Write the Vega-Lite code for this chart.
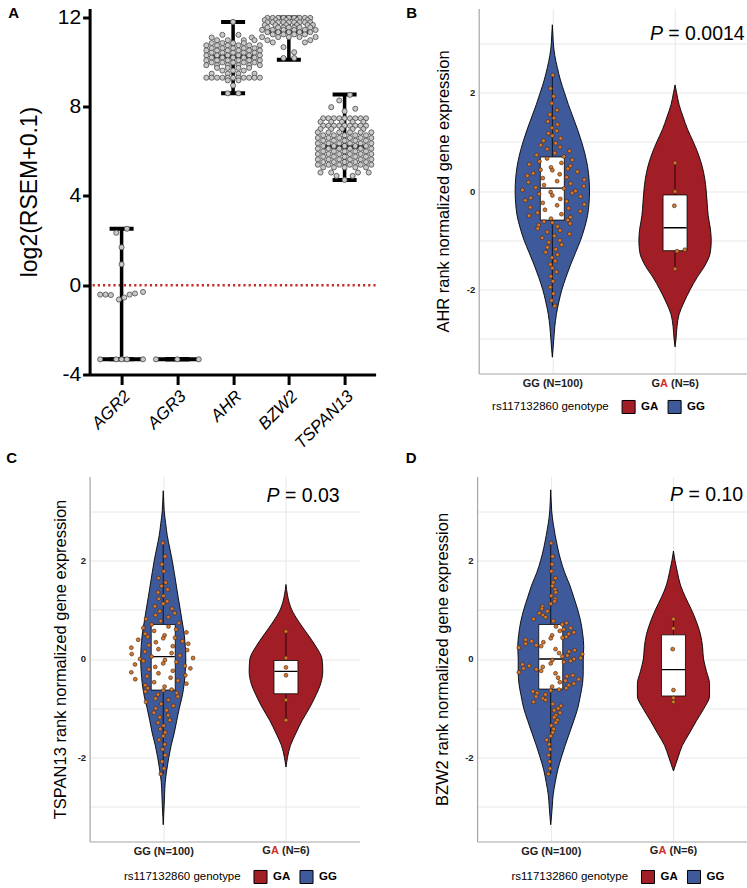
{
"$schema":"https://vega.github.io/schema/vega-lite/v6.json",
"background":"white",
"padding":{"left":5.6,"top":5.5,"right":0,"bottom":0},
"config":{"font":"Liberation Sans","view":{"stroke":null}},
"datasets":{
"ref":[{"y":0}],
"aSum":[{"g":"AGR2","c":1,"lo":-3.32,"med":-3.32,"hi":2.53},{"g":"AGR3","c":2,"lo":-3.32,"med":-3.32,"hi":-3.32},{"g":"AHR","c":3,"lo":8.6,"med":10.25,"hi":11.8},{"g":"BZW2","c":4,"lo":10.1,"med":11.35,"hi":12.0},{"g":"TSPAN13","c":5,"lo":4.72,"med":6.2,"hi":8.55}],
"aPts":[
{"v":2.53,"x":1.096},{"v":2.35,"x":0.904},{"v":1.7,"x":1},{"v":0.94,"x":1},{"v":-0.42,"x":0.616},{"v":-0.42,"x":0.712},{"v":-0.44,"x":0.808},{"v":-0.64,"x":0.952},{"v":-0.55,"x":1.048},{"v":-0.42,"x":1.144},{"v":-0.37,"x":1.24},{"v":-0.3,"x":1.384},
{"v":-3.32,"x":0.616},{"v":-3.32,"x":0.904},{"v":-3.32,"x":1},{"v":-3.32,"x":1.096},{"v":-3.32,"x":1.384},
{"v":-3.32,"x":1.616},{"v":-3.32,"x":2},{"v":-3.32,"x":2.384},
{"v":11.8,"x":3},{"v":11.22,"x":2.808},{"v":11.22,"x":3.096},{"v":11.1,"x":2.616},{"v":11.1,"x":3.336},
{"v":10.98,"x":2.712},{"v":10.98,"x":2.904},{"v":10.98,"x":3.192},{"v":10.98,"x":3.384},
{"v":10.85,"x":2.616},{"v":10.85,"x":2.808},{"v":10.85,"x":3},{"v":10.85,"x":3.192},
{"v":10.75,"x":2.52},{"v":10.75,"x":2.712},{"v":10.75,"x":2.904},{"v":10.75,"x":3.096},{"v":10.75,"x":3.288},{"v":10.75,"x":3.48},
{"v":10.62,"x":2.616},{"v":10.62,"x":2.808},{"v":10.62,"x":3},{"v":10.62,"x":3.192},{"v":10.62,"x":3.384},
{"v":10.52,"x":2.52},{"v":10.52,"x":2.712},{"v":10.52,"x":2.904},{"v":10.52,"x":3.096},{"v":10.52,"x":3.288},{"v":10.52,"x":3.48},
{"v":10.42,"x":2.616},{"v":10.42,"x":2.808},{"v":10.42,"x":3},{"v":10.42,"x":3.192},{"v":10.42,"x":3.384},
{"v":10.3,"x":2.52},{"v":10.3,"x":2.712},{"v":10.3,"x":2.904},{"v":10.3,"x":3.096},{"v":10.3,"x":3.288},{"v":10.3,"x":3.48},
{"v":10.2,"x":2.616},{"v":10.2,"x":2.808},{"v":10.2,"x":3},{"v":10.2,"x":3.192},{"v":10.2,"x":3.384},
{"v":10.08,"x":2.52},{"v":10.08,"x":2.712},{"v":10.08,"x":2.904},{"v":10.08,"x":3.096},{"v":10.08,"x":3.288},{"v":10.08,"x":3.48},
{"v":9.98,"x":2.616},{"v":9.98,"x":2.808},{"v":9.98,"x":3},{"v":9.98,"x":3.192},{"v":9.98,"x":3.384},
{"v":9.86,"x":2.52},{"v":9.86,"x":2.712},{"v":9.86,"x":2.904},{"v":9.86,"x":3.096},{"v":9.86,"x":3.288},{"v":9.86,"x":3.48},
{"v":9.74,"x":2.712},{"v":9.74,"x":2.904},{"v":9.74,"x":3.096},{"v":9.74,"x":3.288},
{"v":9.62,"x":2.808},{"v":9.62,"x":3},{"v":9.62,"x":3.192},
{"v":9.48,"x":2.616},{"v":9.48,"x":2.904},{"v":9.48,"x":3.096},{"v":9.48,"x":3.384},
{"v":9.3,"x":2.52},{"v":9.3,"x":2.616},{"v":9.3,"x":2.712},{"v":9.3,"x":2.808},{"v":9.3,"x":2.904},{"v":9.3,"x":3},{"v":9.3,"x":3.096},{"v":9.3,"x":3.192},{"v":9.3,"x":3.288},{"v":9.3,"x":3.384},{"v":9.3,"x":3.48},
{"v":9.18,"x":2.904},{"v":9.18,"x":3.096},{"v":8.95,"x":3},{"v":8.6,"x":2.904},{"v":8.6,"x":3.096},
{"v":11.98,"x":3.616},{"v":11.98,"x":3.712},{"v":11.98,"x":3.808},{"v":11.98,"x":3.904},{"v":11.98,"x":4},{"v":11.98,"x":4.096},{"v":11.98,"x":4.192},{"v":11.98,"x":4.288},{"v":11.98,"x":4.384},
{"v":11.88,"x":3.568},{"v":11.88,"x":3.76},{"v":11.88,"x":3.952},{"v":11.88,"x":4.144},{"v":11.88,"x":4.336},
{"v":11.78,"x":3.616},{"v":11.78,"x":3.712},{"v":11.78,"x":3.808},{"v":11.78,"x":3.904},{"v":11.78,"x":4},{"v":11.78,"x":4.096},{"v":11.78,"x":4.192},{"v":11.78,"x":4.288},{"v":11.78,"x":4.384},
{"v":11.66,"x":3.568},{"v":11.66,"x":3.76},{"v":11.66,"x":3.952},{"v":11.66,"x":4.144},{"v":11.66,"x":4.336},{"v":11.66,"x":4.432},
{"v":11.55,"x":3.616},{"v":11.55,"x":3.808},{"v":11.55,"x":3.904},{"v":11.55,"x":4},{"v":11.55,"x":4.096},{"v":11.55,"x":4.192},{"v":11.55,"x":4.384},
{"v":11.44,"x":3.52},{"v":11.44,"x":3.712},{"v":11.44,"x":3.904},{"v":11.44,"x":4.096},{"v":11.44,"x":4.288},{"v":11.44,"x":4.48},
{"v":11.34,"x":3.616},{"v":11.34,"x":3.808},{"v":11.34,"x":4},{"v":11.34,"x":4.192},{"v":11.34,"x":4.384},
{"v":11.24,"x":3.712},{"v":11.24,"x":3.904},{"v":11.24,"x":4.096},{"v":11.24,"x":4.288},
{"v":11.12,"x":3.52},{"v":11.12,"x":3.808},{"v":11.12,"x":4},{"v":11.12,"x":4.192},{"v":11.12,"x":4.48},
{"v":10.98,"x":3.616},{"v":10.98,"x":4.384},{"v":10.88,"x":3.712},{"v":10.88,"x":4.288},
{"v":10.67,"x":3.904},{"v":10.44,"x":4.096},{"v":10.18,"x":3.904},{"v":10.18,"x":4.096},
{"v":8.53,"x":5.096},{"v":8.28,"x":4.904},{"v":7.98,"x":4.76},{"v":7.91,"x":5.192},{"v":7.8,"x":5},
{"v":7.48,"x":4.616},{"v":7.48,"x":4.712},{"v":7.48,"x":4.808},{"v":7.48,"x":4.904},{"v":7.48,"x":5},{"v":7.48,"x":5.096},{"v":7.48,"x":5.192},{"v":7.48,"x":5.288},{"v":7.48,"x":5.384},
{"v":7.32,"x":4.568},{"v":7.32,"x":4.76},{"v":7.32,"x":4.952},{"v":7.32,"x":5.144},{"v":7.32,"x":5.336},
{"v":7.15,"x":4.616},{"v":7.15,"x":4.712},{"v":7.15,"x":4.808},{"v":7.15,"x":4.904},{"v":7.15,"x":5},{"v":7.15,"x":5.096},{"v":7.15,"x":5.192},{"v":7.15,"x":5.288},{"v":7.15,"x":5.384},
{"v":7.0,"x":4.568},{"v":7.0,"x":4.76},{"v":7.0,"x":4.952},{"v":7.0,"x":5.144},{"v":7.0,"x":5.336},
{"v":6.85,"x":4.52},{"v":6.85,"x":4.712},{"v":6.85,"x":4.904},{"v":6.85,"x":5.096},{"v":6.85,"x":5.288},{"v":6.85,"x":5.48},
{"v":6.72,"x":4.616},{"v":6.72,"x":4.808},{"v":6.72,"x":5},{"v":6.72,"x":5.192},{"v":6.72,"x":5.384},
{"v":6.6,"x":4.52},{"v":6.6,"x":4.712},{"v":6.6,"x":4.904},{"v":6.6,"x":5.096},{"v":6.6,"x":5.288},{"v":6.6,"x":5.48},
{"v":6.48,"x":4.616},{"v":6.48,"x":4.808},{"v":6.48,"x":5},{"v":6.48,"x":5.192},{"v":6.48,"x":5.384},
{"v":6.36,"x":4.52},{"v":6.36,"x":4.712},{"v":6.36,"x":4.904},{"v":6.36,"x":5.096},{"v":6.36,"x":5.288},{"v":6.36,"x":5.48},
{"v":6.24,"x":4.616},{"v":6.24,"x":4.808},{"v":6.24,"x":5},{"v":6.24,"x":5.192},{"v":6.24,"x":5.384},
{"v":6.12,"x":4.52},{"v":6.12,"x":4.712},{"v":6.12,"x":4.904},{"v":6.12,"x":5.096},{"v":6.12,"x":5.288},{"v":6.12,"x":5.48},
{"v":6.0,"x":4.616},{"v":6.0,"x":4.808},{"v":6.0,"x":5},{"v":6.0,"x":5.192},{"v":6.0,"x":5.384},
{"v":5.88,"x":4.52},{"v":5.88,"x":4.712},{"v":5.88,"x":4.904},{"v":5.88,"x":5.096},{"v":5.88,"x":5.288},{"v":5.88,"x":5.48},
{"v":5.76,"x":4.616},{"v":5.76,"x":4.808},{"v":5.76,"x":5},{"v":5.76,"x":5.192},{"v":5.76,"x":5.384},
{"v":5.64,"x":4.52},{"v":5.64,"x":4.712},{"v":5.64,"x":4.904},{"v":5.64,"x":5.096},{"v":5.64,"x":5.288},{"v":5.64,"x":5.48},
{"v":5.52,"x":4.616},{"v":5.52,"x":4.808},{"v":5.52,"x":5},{"v":5.52,"x":5.192},{"v":5.52,"x":5.384},
{"v":5.4,"x":4.52},{"v":5.4,"x":4.712},{"v":5.4,"x":4.904},{"v":5.4,"x":5.096},{"v":5.4,"x":5.288},{"v":5.4,"x":5.48},
{"v":5.28,"x":4.616},{"v":5.28,"x":4.808},{"v":5.28,"x":5},{"v":5.28,"x":5.192},{"v":5.28,"x":5.384},
{"v":5.05,"x":4.568},{"v":5.05,"x":4.76},{"v":5.05,"x":5.24},{"v":5.05,"x":5.432},
{"v":4.9,"x":4.856},{"v":4.9,"x":5.144},{"v":4.72,"x":5}
],
"vioB":[
{"g":"GG","v":3.37,"lo":1,"hi":1},{"g":"GG","v":3.2,"lo":0.996,"hi":1.004},{"g":"GG","v":3.0,"lo":0.992,"hi":1.008},{"g":"GG","v":2.75,"lo":0.98,"hi":1.02},{"g":"GG","v":2.5,"lo":0.959,"hi":1.041},{"g":"GG","v":2.25,"lo":0.934,"hi":1.066},{"g":"GG","v":2.0,"lo":0.902,"hi":1.098},{"g":"GG","v":1.75,"lo":0.869,"hi":1.131},{"g":"GG","v":1.5,"lo":0.832,"hi":1.168},{"g":"GG","v":1.25,"lo":0.795,"hi":1.205},{"g":"GG","v":1.0,"lo":0.762,"hi":1.238},{"g":"GG","v":0.75,"lo":0.734,"hi":1.266},{"g":"GG","v":0.5,"lo":0.713,"hi":1.287},{"g":"GG","v":0.25,"lo":0.701,"hi":1.299},{"g":"GG","v":0.0,"lo":0.697,"hi":1.303},{"g":"GG","v":-0.25,"lo":0.701,"hi":1.299},{"g":"GG","v":-0.5,"lo":0.713,"hi":1.287},{"g":"GG","v":-0.75,"lo":0.738,"hi":1.262},{"g":"GG","v":-1.0,"lo":0.77,"hi":1.23},{"g":"GG","v":-1.25,"lo":0.811,"hi":1.189},{"g":"GG","v":-1.5,"lo":0.852,"hi":1.148},{"g":"GG","v":-1.75,"lo":0.889,"hi":1.111},{"g":"GG","v":-2.0,"lo":0.922,"hi":1.078},{"g":"GG","v":-2.25,"lo":0.947,"hi":1.053},{"g":"GG","v":-2.5,"lo":0.967,"hi":1.033},{"g":"GG","v":-2.75,"lo":0.98,"hi":1.02},{"g":"GG","v":-3.0,"lo":0.988,"hi":1.012},{"g":"GG","v":-3.2,"lo":0.994,"hi":1.006},{"g":"GG","v":-3.37,"lo":1,"hi":1},
{"g":"GA","v":2.15,"lo":2,"hi":2},{"g":"GA","v":2.0,"lo":1.988,"hi":2.012},{"g":"GA","v":1.75,"lo":1.967,"hi":2.033},{"g":"GA","v":1.5,"lo":1.934,"hi":2.066},{"g":"GA","v":1.25,"lo":1.898,"hi":2.102},{"g":"GA","v":1.0,"lo":1.852,"hi":2.148},{"g":"GA","v":0.75,"lo":1.811,"hi":2.189},{"g":"GA","v":0.5,"lo":1.779,"hi":2.221},{"g":"GA","v":0.25,"lo":1.758,"hi":2.242},{"g":"GA","v":0.0,"lo":1.746,"hi":2.254},{"g":"GA","v":-0.25,"lo":1.738,"hi":2.262},{"g":"GA","v":-0.5,"lo":1.73,"hi":2.27},{"g":"GA","v":-0.75,"lo":1.713,"hi":2.287},{"g":"GA","v":-1.0,"lo":1.705,"hi":2.295},{"g":"GA","v":-1.25,"lo":1.713,"hi":2.287},{"g":"GA","v":-1.5,"lo":1.754,"hi":2.246},{"g":"GA","v":-1.75,"lo":1.82,"hi":2.18},{"g":"GA","v":-2.0,"lo":1.877,"hi":2.123},{"g":"GA","v":-2.25,"lo":1.926,"hi":2.074},{"g":"GA","v":-2.5,"lo":1.967,"hi":2.033},{"g":"GA","v":-2.75,"lo":1.984,"hi":2.016},{"g":"GA","v":-3.0,"lo":1.992,"hi":2.008},{"g":"GA","v":-3.16,"lo":2,"hi":2}
],
"vioC":[
{"g":"GG","v":3.41,"lo":1,"hi":1},{"g":"GG","v":3.2,"lo":0.996,"hi":1.004},{"g":"GG","v":3.0,"lo":0.992,"hi":1.008},{"g":"GG","v":2.75,"lo":0.98,"hi":1.02},{"g":"GG","v":2.5,"lo":0.967,"hi":1.033},{"g":"GG","v":2.25,"lo":0.947,"hi":1.053},{"g":"GG","v":2.0,"lo":0.927,"hi":1.073},{"g":"GG","v":1.75,"lo":0.91,"hi":1.09},{"g":"GG","v":1.5,"lo":0.894,"hi":1.106},{"g":"GG","v":1.25,"lo":0.878,"hi":1.122},{"g":"GG","v":1.0,"lo":0.861,"hi":1.139},{"g":"GG","v":0.75,"lo":0.845,"hi":1.155},{"g":"GG","v":0.5,"lo":0.829,"hi":1.171},{"g":"GG","v":0.25,"lo":0.82,"hi":1.18},{"g":"GG","v":0.0,"lo":0.816,"hi":1.184},{"g":"GG","v":-0.25,"lo":0.82,"hi":1.18},{"g":"GG","v":-0.5,"lo":0.829,"hi":1.171},{"g":"GG","v":-0.75,"lo":0.845,"hi":1.155},{"g":"GG","v":-1.0,"lo":0.869,"hi":1.131},{"g":"GG","v":-1.25,"lo":0.89,"hi":1.11},{"g":"GG","v":-1.5,"lo":0.91,"hi":1.09},{"g":"GG","v":-1.75,"lo":0.935,"hi":1.065},{"g":"GG","v":-2.0,"lo":0.955,"hi":1.045},{"g":"GG","v":-2.25,"lo":0.971,"hi":1.029},{"g":"GG","v":-2.5,"lo":0.984,"hi":1.016},{"g":"GG","v":-2.75,"lo":0.989,"hi":1.011},{"g":"GG","v":-3.0,"lo":0.993,"hi":1.007},{"g":"GG","v":-3.2,"lo":0.997,"hi":1.003},{"g":"GG","v":-3.36,"lo":1,"hi":1},
{"g":"GA","v":1.51,"lo":2,"hi":2},{"g":"GA","v":1.3,"lo":1.988,"hi":2.012},{"g":"GA","v":1.0,"lo":1.953,"hi":2.047},{"g":"GA","v":0.75,"lo":1.894,"hi":2.106},{"g":"GA","v":0.5,"lo":1.823,"hi":2.177},{"g":"GA","v":0.25,"lo":1.755,"hi":2.245},{"g":"GA","v":0.0,"lo":1.706,"hi":2.294},{"g":"GA","v":-0.25,"lo":1.7,"hi":2.3},{"g":"GA","v":-0.5,"lo":1.717,"hi":2.283},{"g":"GA","v":-0.75,"lo":1.759,"hi":2.241},{"g":"GA","v":-1.0,"lo":1.81,"hi":2.19},{"g":"GA","v":-1.25,"lo":1.869,"hi":2.131},{"g":"GA","v":-1.5,"lo":1.918,"hi":2.082},{"g":"GA","v":-1.75,"lo":1.963,"hi":2.037},{"g":"GA","v":-2.0,"lo":1.988,"hi":2.012},{"g":"GA","v":-2.19,"lo":2,"hi":2}
],
"vioD":[
{"g":"GG","v":3.43,"lo":1,"hi":1},{"g":"GG","v":3.2,"lo":0.996,"hi":1.004},{"g":"GG","v":3.0,"lo":0.992,"hi":1.008},{"g":"GG","v":2.75,"lo":0.98,"hi":1.02},{"g":"GG","v":2.5,"lo":0.963,"hi":1.037},{"g":"GG","v":2.25,"lo":0.943,"hi":1.057},{"g":"GG","v":2.0,"lo":0.918,"hi":1.082},{"g":"GG","v":1.75,"lo":0.886,"hi":1.114},{"g":"GG","v":1.5,"lo":0.845,"hi":1.155},{"g":"GG","v":1.25,"lo":0.812,"hi":1.188},{"g":"GG","v":1.0,"lo":0.78,"hi":1.22},{"g":"GG","v":0.75,"lo":0.755,"hi":1.245},{"g":"GG","v":0.5,"lo":0.739,"hi":1.261},{"g":"GG","v":0.25,"lo":0.731,"hi":1.269},{"g":"GG","v":0.0,"lo":0.735,"hi":1.265},{"g":"GG","v":-0.25,"lo":0.735,"hi":1.265},{"g":"GG","v":-0.5,"lo":0.741,"hi":1.259},{"g":"GG","v":-0.75,"lo":0.759,"hi":1.241},{"g":"GG","v":-1.0,"lo":0.78,"hi":1.22},{"g":"GG","v":-1.25,"lo":0.812,"hi":1.188},{"g":"GG","v":-1.5,"lo":0.847,"hi":1.153},{"g":"GG","v":-1.75,"lo":0.882,"hi":1.118},{"g":"GG","v":-2.0,"lo":0.914,"hi":1.086},{"g":"GG","v":-2.25,"lo":0.943,"hi":1.057},{"g":"GG","v":-2.5,"lo":0.963,"hi":1.037},{"g":"GG","v":-2.75,"lo":0.98,"hi":1.02},{"g":"GG","v":-3.0,"lo":0.988,"hi":1.012},{"g":"GG","v":-3.2,"lo":0.994,"hi":1.006},{"g":"GG","v":-3.36,"lo":1,"hi":1},
{"g":"GA","v":2.19,"lo":2,"hi":2},{"g":"GA","v":2.0,"lo":1.988,"hi":2.012},{"g":"GA","v":1.75,"lo":1.967,"hi":2.033},{"g":"GA","v":1.5,"lo":1.943,"hi":2.057},{"g":"GA","v":1.25,"lo":1.902,"hi":2.098},{"g":"GA","v":1.0,"lo":1.853,"hi":2.147},{"g":"GA","v":0.75,"lo":1.812,"hi":2.188},{"g":"GA","v":0.5,"lo":1.78,"hi":2.22},{"g":"GA","v":0.25,"lo":1.763,"hi":2.237},{"g":"GA","v":0.0,"lo":1.755,"hi":2.245},{"g":"GA","v":-0.25,"lo":1.731,"hi":2.269},{"g":"GA","v":-0.5,"lo":1.706,"hi":2.294},{"g":"GA","v":-0.75,"lo":1.706,"hi":2.294},{"g":"GA","v":-1.0,"lo":1.751,"hi":2.249},{"g":"GA","v":-1.25,"lo":1.812,"hi":2.188},{"g":"GA","v":-1.5,"lo":1.869,"hi":2.131},{"g":"GA","v":-1.75,"lo":1.927,"hi":2.073},{"g":"GA","v":-2.0,"lo":1.963,"hi":2.037},{"g":"GA","v":-2.27,"lo":2,"hi":2}
],
"boxB":[{"g":"GG","c":1,"lo":-2.33,"q1":-0.59,"med":0.06,"q3":0.69,"hi":2.35},{"g":"GA","c":2,"lo":-1.58,"q1":-1.21,"med":-0.745,"q3":-0.08,"hi":0.57}],
"boxC":[{"g":"GG","c":1,"lo":-2.33,"q1":-0.63,"med":0.05,"q3":0.7,"hi":2.35},{"g":"GA","c":2,"lo":-1.24,"q1":-0.705,"med":-0.25,"q3":-0.03,"hi":0.56}],
"boxD":[{"g":"GG","c":1,"lo":-2.33,"q1":-0.61,"med":0.0,"q3":0.7,"hi":2.35},{"g":"GA","c":2,"lo":-0.87,"q1":-0.75,"med":-0.215,"q3":0.49,"hi":0.81}],
"ptsB":[
{"v":2.35,"x":1.003},{"v":2.08,"x":0.985},{"v":1.92,"x":1.011},{"v":1.78,"x":0.995},{"v":1.64,"x":1.038},{"v":1.55,"x":0.98},{"v":1.48,"x":1.014},{"v":1.41,"x":0.964},{"v":1.35,"x":1.042},{"v":1.28,"x":0.997},
{"v":1.22,"x":1.036},{"v":1.17,"x":0.968},{"v":1.12,"x":1.0},{"v":1.07,"x":1.068},{"v":1.02,"x":0.928},{"v":0.97,"x":1.028},{"v":0.93,"x":0.906},{"v":0.89,"x":1.063},{"v":0.85,"x":0.958},{"v":0.81,"x":1.14},
{"v":0.77,"x":1.021},{"v":0.73,"x":0.872},{"v":0.7,"x":1.094},{"v":0.66,"x":0.957},{"v":0.63,"x":1.162},{"v":0.6,"x":0.895},{"v":0.57,"x":1.074},{"v":0.54,"x":0.811},{"v":0.51,"x":1.147},{"v":0.48,"x":0.989},
{"v":0.45,"x":1.126},{"v":0.43,"x":0.904},{"v":0.42,"x":1.0},{"v":0.39,"x":1.204},{"v":0.36,"x":0.844},{"v":0.34,"x":1.06},{"v":0.31,"x":0.796},{"v":0.28,"x":1.117},{"v":0.26,"x":0.922},{"v":0.23,"x":1.26},
{"v":0.2,"x":1.039},{"v":0.18,"x":0.805},{"v":0.15,"x":1.149},{"v":0.12,"x":0.932},{"v":0.1,"x":1.257},{"v":0.07,"x":0.865},{"v":0.05,"x":1.095},{"v":0.02,"x":0.757},{"v":0.0,"x":1.189},{"v":-0.02,"x":0.986},
{"v":-0.04,"x":1.162},{"v":-0.06,"x":0.892},{"v":-0.09,"x":1.0},{"v":-0.11,"x":1.23},{"v":-0.14,"x":0.824},{"v":-0.16,"x":1.065},{"v":-0.19,"x":0.779},{"v":-0.21,"x":1.117},{"v":-0.24,"x":0.922},{"v":-0.27,"x":1.26},
{"v":-0.29,"x":1.039},{"v":-0.33,"x":0.82},{"v":-0.35,"x":1.132},{"v":-0.38,"x":0.94},{"v":-0.41,"x":1.228},{"v":-0.44,"x":0.88},{"v":-0.47,"x":1.074},{"v":-0.5,"x":0.811},{"v":-0.53,"x":1.147},{"v":-0.56,"x":0.989},
{"v":-0.59,"x":1.126},{"v":-0.62,"x":0.932},{"v":-0.64,"x":1.0},{"v":-0.66,"x":1.145},{"v":-0.69,"x":0.889},{"v":-0.72,"x":1.043},{"v":-0.76,"x":0.881},{"v":-0.8,"x":1.063},{"v":-0.83,"x":0.958},{"v":-0.87,"x":1.14},
{"v":-0.91,"x":1.017},{"v":-0.95,"x":0.917},{"v":-1.0,"x":1.061},{"v":-1.04,"x":0.972},{"v":-1.09,"x":1.076},{"v":-1.14,"x":0.96},{"v":-1.18,"x":1.028},{"v":-1.24,"x":0.946},{"v":-1.29,"x":1.042},{"v":-1.35,"x":0.997},
{"v":-1.42,"x":1.024},{"v":-1.49,"x":0.984},{"v":-1.56,"x":1.0},{"v":-1.64,"x":1.034},{"v":-1.73,"x":0.987},{"v":-1.83,"x":1.005},{"v":-1.95,"x":0.983},{"v":-2.08,"x":1.009},{"v":-2.22,"x":0.994},{"v":-2.33,"x":1.02},
{"v":0.57,"x":2.0},{"v":-0.01,"x":2.0},{"v":-0.3,"x":1.994},{"v":-1.19,"x":2.08},{"v":-1.22,"x":2.016},{"v":-1.58,"x":2.0}
],
"ptsC":[
{"v":2.35,"x":0.997},{"v":2.08,"x":1.015},{"v":1.92,"x":0.989},{"v":1.78,"x":1.005},{"v":1.64,"x":0.962},{"v":1.55,"x":1.02},{"v":1.48,"x":0.986},{"v":1.41,"x":1.036},{"v":1.35,"x":0.958},{"v":1.28,"x":1.003},
{"v":1.22,"x":0.964},{"v":1.17,"x":1.032},{"v":1.12,"x":1.0},{"v":1.07,"x":0.932},{"v":1.02,"x":1.072},{"v":0.97,"x":0.972},{"v":0.93,"x":1.094},{"v":0.89,"x":0.937},{"v":0.85,"x":1.042},{"v":0.81,"x":0.86},
{"v":0.77,"x":0.979},{"v":0.73,"x":1.128},{"v":0.7,"x":0.906},{"v":0.66,"x":1.043},{"v":0.63,"x":0.838},{"v":0.6,"x":1.105},{"v":0.57,"x":0.926},{"v":0.54,"x":1.189},{"v":0.51,"x":0.853},{"v":0.48,"x":1.011},
{"v":0.45,"x":0.874},{"v":0.43,"x":1.096},{"v":0.42,"x":1.0},{"v":0.39,"x":0.796},{"v":0.36,"x":1.156},{"v":0.34,"x":0.94},{"v":0.31,"x":1.204},{"v":0.28,"x":0.883},{"v":0.26,"x":1.078},{"v":0.23,"x":0.74},
{"v":0.2,"x":0.961},{"v":0.18,"x":1.195},{"v":0.15,"x":0.851},{"v":0.12,"x":1.068},{"v":0.1,"x":0.743},{"v":0.07,"x":1.135},{"v":0.05,"x":0.905},{"v":0.02,"x":1.243},{"v":0.0,"x":0.811},{"v":-0.02,"x":1.014},
{"v":-0.04,"x":0.838},{"v":-0.06,"x":1.108},{"v":-0.09,"x":1.0},{"v":-0.11,"x":0.77},{"v":-0.14,"x":1.176},{"v":-0.16,"x":0.935},{"v":-0.19,"x":1.221},{"v":-0.21,"x":0.883},{"v":-0.24,"x":1.078},{"v":-0.27,"x":0.74},
{"v":-0.29,"x":0.961},{"v":-0.33,"x":1.18},{"v":-0.35,"x":0.868},{"v":-0.38,"x":1.06},{"v":-0.41,"x":0.772},{"v":-0.44,"x":1.12},{"v":-0.47,"x":0.926},{"v":-0.5,"x":1.189},{"v":-0.53,"x":0.853},{"v":-0.56,"x":1.011},
{"v":-0.59,"x":0.874},{"v":-0.62,"x":1.068},{"v":-0.64,"x":1.0},{"v":-0.66,"x":0.855},{"v":-0.69,"x":1.111},{"v":-0.72,"x":0.957},{"v":-0.76,"x":1.119},{"v":-0.8,"x":0.937},{"v":-0.83,"x":1.042},{"v":-0.87,"x":0.86},
{"v":-0.91,"x":0.983},{"v":-0.95,"x":1.083},{"v":-1.0,"x":0.939},{"v":-1.04,"x":1.028},{"v":-1.09,"x":0.924},{"v":-1.14,"x":1.04},{"v":-1.18,"x":0.972},{"v":-1.24,"x":1.054},{"v":-1.29,"x":0.958},{"v":-1.35,"x":1.003},
{"v":-1.42,"x":0.976},{"v":-1.49,"x":1.016},{"v":-1.56,"x":1.0},{"v":-1.64,"x":0.966},{"v":-1.73,"x":1.013},{"v":-1.83,"x":0.995},{"v":-1.95,"x":1.017},{"v":-2.08,"x":0.991},{"v":-2.22,"x":1.006},{"v":-2.33,"x":0.98},
{"v":0.56,"x":2.0},{"v":0.02,"x":2.0},{"v":-0.17,"x":2.0},{"v":-0.33,"x":2.0},{"v":-0.83,"x":2.0},{"v":-1.24,"x":2.0}
],
"ptsD":[
{"v":2.35,"x":1.003},{"v":2.08,"x":1.015},{"v":1.92,"x":1.011},{"v":1.78,"x":1.005},{"v":1.64,"x":1.038},{"v":1.55,"x":1.02},{"v":1.48,"x":1.014},{"v":1.41,"x":1.036},{"v":1.35,"x":1.042},{"v":1.28,"x":1.003},
{"v":1.22,"x":1.036},{"v":1.17,"x":1.032},{"v":1.12,"x":1.0},{"v":1.07,"x":0.932},{"v":1.02,"x":0.928},{"v":0.97,"x":0.972},{"v":0.93,"x":0.906},{"v":0.89,"x":0.937},{"v":0.85,"x":0.958},{"v":0.81,"x":0.86},
{"v":0.77,"x":1.021},{"v":0.73,"x":1.128},{"v":0.7,"x":1.094},{"v":0.66,"x":1.043},{"v":0.63,"x":1.162},{"v":0.6,"x":1.105},{"v":0.57,"x":1.074},{"v":0.54,"x":1.189},{"v":0.51,"x":1.147},{"v":0.48,"x":1.011},
{"v":0.45,"x":1.126},{"v":0.43,"x":1.096},{"v":0.42,"x":1.0},{"v":0.39,"x":0.796},{"v":0.36,"x":0.844},{"v":0.34,"x":0.94},{"v":0.31,"x":0.796},{"v":0.28,"x":0.883},{"v":0.26,"x":0.922},{"v":0.23,"x":0.74},
{"v":0.2,"x":1.039},{"v":0.18,"x":1.195},{"v":0.15,"x":1.149},{"v":0.12,"x":1.068},{"v":0.1,"x":1.257},{"v":0.07,"x":1.135},{"v":0.05,"x":1.095},{"v":0.02,"x":1.243},{"v":0.0,"x":1.189},{"v":-0.02,"x":1.014},
{"v":-0.04,"x":1.162},{"v":-0.06,"x":1.108},{"v":-0.09,"x":1.0},{"v":-0.11,"x":0.77},{"v":-0.14,"x":0.824},{"v":-0.16,"x":0.935},{"v":-0.19,"x":0.779},{"v":-0.21,"x":0.883},{"v":-0.24,"x":0.922},{"v":-0.27,"x":0.74},
{"v":-0.29,"x":1.039},{"v":-0.33,"x":1.18},{"v":-0.35,"x":1.132},{"v":-0.38,"x":1.06},{"v":-0.41,"x":1.228},{"v":-0.44,"x":1.12},{"v":-0.47,"x":1.074},{"v":-0.5,"x":1.189},{"v":-0.53,"x":1.147},{"v":-0.56,"x":1.011},
{"v":-0.59,"x":1.126},{"v":-0.62,"x":1.068},{"v":-0.64,"x":1.0},{"v":-0.66,"x":0.855},{"v":-0.69,"x":0.889},{"v":-0.72,"x":0.957},{"v":-0.76,"x":0.881},{"v":-0.8,"x":0.937},{"v":-0.83,"x":0.958},{"v":-0.87,"x":0.86},
{"v":-0.91,"x":1.017},{"v":-0.95,"x":1.083},{"v":-1.0,"x":1.061},{"v":-1.04,"x":1.028},{"v":-1.09,"x":1.076},{"v":-1.14,"x":1.04},{"v":-1.18,"x":1.028},{"v":-1.24,"x":1.054},{"v":-1.29,"x":1.042},{"v":-1.35,"x":1.003},
{"v":-1.42,"x":1.024},{"v":-1.49,"x":1.016},{"v":-1.56,"x":1.0},{"v":-1.64,"x":0.966},{"v":-1.73,"x":0.987},{"v":-1.83,"x":0.995},{"v":-1.95,"x":0.983},{"v":-2.08,"x":0.991},{"v":-2.22,"x":0.994},{"v":-2.33,"x":0.98},
{"v":0.81,"x":2.0},{"v":0.62,"x":2.0},{"v":0.2,"x":1.994},{"v":-0.63,"x":2.0},{"v":-0.79,"x":2.0},{"v":-0.87,"x":2.0}
]
},
"resolve":{"scale":{"fill":"independent"}},
"spacing":0,
"vconcat":[
{
"spacing":28.1,
"resolve":{"scale":{"fill":"independent"}},
"hconcat":[
{
"width":286,"height":366,
"layer":[
{"data":{"name":"ref"},
 "mark":{"type":"rule","color":"#C92A2A","strokeDash":[2.2,3],"strokeWidth":2.4},
 "encoding":{"y":{"field":"y","type":"quantitative","scale":{"domain":[-4,12.4],"nice":false,"zero":false},"title":"log2(RSEM+0.1)",
  "axis":{"values":[-4,0,4,8,12],"labelExpr":"datum.value < 0 ? '-' + abs(datum.value) : datum.label","domainWidth":3,"domainColor":"black","tickSize":7,"tickWidth":3,"tickColor":"black","labelFontSize":21,"labelColor":"black","labelPadding":2,"labelOverlap":false,"titleFontSize":23,"titleFontWeight":"normal","titleColor":"black","titlePadding":16,"grid":false}}}},
{"data":{"name":"aSum"},
 "mark":{"type":"rule","color":"black","strokeWidth":3.5},
 "encoding":{"x":{"field":"c","type":"quantitative","scale":{"domain":[0.426,5.556],"nice":false,"zero":false,"padding":0}},
  "y":{"field":"lo","type":"quantitative","scale":{"domain":[-4,12.4],"nice":false,"zero":false}},"y2":{"field":"hi"}}},
{"data":{"name":"aSum"},
 "mark":{"type":"bar","width":24,"fill":"black","stroke":"black","strokeWidth":4},
 "encoding":{"x":{"field":"c","type":"quantitative","scale":{"domain":[0.426,5.556],"nice":false,"zero":false,"padding":0}},
  "y":{"field":"lo","type":"quantitative","scale":{"domain":[-4,12.4],"nice":false,"zero":false}},"y2":{"field":"lo"}}},
{"data":{"name":"aSum"},
 "mark":{"type":"bar","width":24,"fill":"black","stroke":"black","strokeWidth":4},
 "encoding":{"x":{"field":"c","type":"quantitative","scale":{"domain":[0.426,5.556],"nice":false,"zero":false,"padding":0}},
  "y":{"field":"hi","type":"quantitative","scale":{"domain":[-4,12.4],"nice":false,"zero":false}},"y2":{"field":"hi"}}},
{"data":{"name":"aSum"},
 "mark":{"type":"bar","width":42,"fill":"black","stroke":"black","strokeWidth":4},
 "encoding":{"x":{"field":"c","type":"quantitative","scale":{"domain":[0.426,5.556],"nice":false,"zero":false,"padding":0}},
  "y":{"field":"med","type":"quantitative","scale":{"domain":[-4,12.4],"nice":false,"zero":false}},"y2":{"field":"med"}}},
{"data":{"name":"aPts"},
 "mark":{"type":"circle","size":26,"fill":"#C9C9C9","stroke":"#4A4A4A","strokeWidth":0.8,"opacity":1},
 "encoding":{"x":{"field":"x","type":"quantitative","scale":{"domain":[0.426,5.556],"nice":false,"zero":false,"padding":0},"title":null,
   "axis":{"values":[1,2,3,4,5],"labelExpr":"['AGR2','AGR3','AHR','BZW2','TSPAN13'][datum.value - 1]","labelAngle":-45,"labelFontSize":17,"labelFontStyle":"italic","labelColor":"black","labelOverlap":false,"labelFlush":false,"labelBound":false,"tickSize":10,"tickWidth":3,"tickColor":"black","domainWidth":3,"domainColor":"black","labelPadding":3,"grid":false}},
  "y":{"field":"v","type":"quantitative","scale":{"domain":[-4,12.4],"nice":false,"zero":false}}}},
{"data":{"name":"ref"},
 "mark":{"type":"text","text":"A","fontSize":15,"fontWeight":"bold","align":"center","baseline":"middle","dx":-219,"dy":-272.7,"color":"black"},
 "encoding":{"y":{"field":"y","type":"quantitative","scale":{"domain":[-4,12.4],"nice":false,"zero":false}}}}
]
},
{
"width":270,"height":365,
"layer":[
{"data":{"name":"vioB"},
 "mark":{"type":"area","orient":"horizontal","interpolate":"monotone","stroke":"black","strokeWidth":0.9,"opacity":1},
 "encoding":{
  "y":{"field":"v","type":"quantitative","scale":{"domain":[-3.7,3.7],"nice":false,"zero":false},"title":"AHR rank normalized gene expression",
   "axis":{"values":[-3,-2,-1,0,1,2,3],"labelExpr":"datum.value == 2 ? '2' : datum.value == 0 ? '0' : datum.value == -2 ? '-2' : ''","labelFontSize":9.5,"labelFontWeight":"bold","labelColor":"#222222","labelOverlap":false,"ticks":false,"tickSize":0,"labelPadding":4,"domainColor":"#A6A6A6","domainWidth":1.2,"grid":true,"gridColor":"#E8E8E8","gridWidth":1,"titleFontSize":16.5,"titleFontWeight":"normal","titleColor":"black","titlePadding":15}},
  "x":{"field":"lo","type":"quantitative","scale":{"domain":[0.4,2.6],"nice":false,"zero":false,"padding":0},"title":null,
   "axis":{"values":[1,2],"labelExpr":"datum.value == 1 ? 'GG (N=100)' : ''","labelFontSize":11,"labelFontWeight":"bold","labelColor":"#222222","labelOverlap":false,"labelFlush":false,"ticks":false,"tickSize":0,"labelPadding":4,"domainColor":"#A6A6A6","domainWidth":1.2,"grid":true,"gridColor":"#E8E8E8","gridWidth":1}},
  "x2":{"field":"hi"},
  "fill":{"field":"g","type":"nominal","scale":{"domain":["GA","GG"],"range":["#A21E26","#3F5A9B"]},
   "legend":{"orient":"none","legendX":13.4,"legendY":390.5,"direction":"horizontal","title":"rs117132860 genotype","titleOrient":"left","titleFontSize":11.5,"titleFontWeight":"normal","titleColor":"black","titlePadding":12,"labelFontSize":11.5,"labelFontWeight":"bold","labelColor":"black","symbolType":"square","symbolSize":170,"symbolStrokeColor":"black","symbolStrokeWidth":1,"symbolOpacity":1,"columnPadding":6,"labelOffset":5}}}},
{"data":{"name":"boxB"},
 "mark":{"type":"rule","color":"black","strokeWidth":0.8},
 "encoding":{"x":{"field":"c","type":"quantitative","scale":{"domain":[0.4,2.6],"nice":false,"zero":false,"padding":0}},
  "y":{"field":"lo","type":"quantitative","scale":{"domain":[-3.7,3.7],"nice":false,"zero":false}},"y2":{"field":"hi"}}},
{"data":{"name":"boxB"},
 "mark":{"type":"bar","width":24,"fill":"white","stroke":"black","strokeWidth":0.8},
 "encoding":{"x":{"field":"c","type":"quantitative","scale":{"domain":[0.4,2.6],"nice":false,"zero":false,"padding":0}},
  "y":{"field":"q1","type":"quantitative","scale":{"domain":[-3.7,3.7],"nice":false,"zero":false}},"y2":{"field":"q3"}}},
{"data":{"name":"boxB"},
 "mark":{"type":"bar","width":23,"fill":"black","stroke":"black","strokeWidth":1.3},
 "encoding":{"x":{"field":"c","type":"quantitative","scale":{"domain":[0.4,2.6],"nice":false,"zero":false,"padding":0}},
  "y":{"field":"med","type":"quantitative","scale":{"domain":[-3.7,3.7],"nice":false,"zero":false}},"y2":{"field":"med"}}},
{"data":{"name":"ptsB"},
 "mark":{"type":"circle","size":15,"fill":"#D9782D","stroke":"#3B2411","strokeWidth":0.6,"opacity":1},
 "encoding":{"x":{"field":"x","type":"quantitative","scale":{"domain":[0.4,2.6],"nice":false,"zero":false,"padding":0}},
  "y":{"field":"v","type":"quantitative","scale":{"domain":[-3.7,3.7],"nice":false,"zero":false}}}},
{"data":{"name":"ref"},
 "mark":{"type":"text","text":"= 0.0014","fontSize":19.5,"align":"right","baseline":"middle","dx":131,"dy":-157.5,"color":"black"},
 "encoding":{"y":{"field":"y","type":"quantitative","scale":{"domain":[-3.7,3.7],"nice":false,"zero":false}}}},
{"data":{"name":"ref"},
 "mark":{"type":"text","text":"P","fontSize":19.5,"fontStyle":"italic","align":"right","baseline":"middle","dx":49.2,"dy":-157.5,"color":"black"},
 "encoding":{"y":{"field":"y","type":"quantitative","scale":{"domain":[-3.7,3.7],"nice":false,"zero":false}}}},
{"data":{"name":"ref"},
 "mark":{"type":"text","text":"G","fontSize":11,"fontWeight":"bold","align":"left","baseline":"top","dx":37.7,"dy":186.5,"color":"#222222"},
 "encoding":{"y":{"field":"y","type":"quantitative","scale":{"domain":[-3.7,3.7],"nice":false,"zero":false}}}},
{"data":{"name":"ref"},
 "mark":{"type":"text","text":"A","fontSize":11,"fontWeight":"bold","align":"left","baseline":"top","dx":46.4,"dy":186.5,"color":"#D42A2A"},
 "encoding":{"y":{"field":"y","type":"quantitative","scale":{"domain":[-3.7,3.7],"nice":false,"zero":false}}}},
{"data":{"name":"ref"},
 "mark":{"type":"text","text":"(N=6)","fontSize":11,"fontWeight":"bold","align":"left","baseline":"top","dx":57.4,"dy":186.5,"color":"#222222"},
 "encoding":{"y":{"field":"y","type":"quantitative","scale":{"domain":[-3.7,3.7],"nice":false,"zero":false}}}},
{"data":{"name":"ref"},
 "mark":{"type":"text","text":"B","fontSize":15,"fontWeight":"bold","align":"center","baseline":"middle","dx":-202,"dy":-178.5,"color":"black"},
 "encoding":{"y":{"field":"y","type":"quantitative","scale":{"domain":[-3.7,3.7],"nice":false,"zero":false}}}}
]
}
]
},
{
"spacing":45.5,
"resolve":{"scale":{"fill":"independent"}},
"hconcat":[
{
"width":270,"height":365,
"layer":[
{"data":{"name":"vioC"},
 "mark":{"type":"area","orient":"horizontal","interpolate":"monotone","stroke":"black","strokeWidth":0.9,"opacity":1},
 "encoding":{
  "y":{"field":"v","type":"quantitative","scale":{"domain":[-3.7,3.7],"nice":false,"zero":false},"title":"TSPAN13 rank normalized gene expression",
   "axis":{"values":[-3,-2,-1,0,1,2,3],"labelExpr":"datum.value == 2 ? '2' : datum.value == 0 ? '0' : datum.value == -2 ? '-2' : ''","labelFontSize":9.5,"labelFontWeight":"bold","labelColor":"#222222","labelOverlap":false,"ticks":false,"tickSize":0,"labelPadding":4,"domainColor":"#A6A6A6","domainWidth":1.2,"grid":true,"gridColor":"#E8E8E8","gridWidth":1,"titleFontSize":16.5,"titleFontWeight":"normal","titleColor":"black","titlePadding":8.5}},
  "x":{"field":"lo","type":"quantitative","scale":{"domain":[0.4,2.6],"nice":false,"zero":false,"padding":0},"title":null,
   "axis":{"values":[1,2],"labelExpr":"datum.value == 1 ? 'GG (N=100)' : ''","labelFontSize":11,"labelFontWeight":"bold","labelColor":"#222222","labelOverlap":false,"labelFlush":false,"ticks":false,"tickSize":0,"labelPadding":4,"domainColor":"#A6A6A6","domainWidth":1.2,"grid":true,"gridColor":"#E8E8E8","gridWidth":1}},
  "x2":{"field":"hi"},
  "fill":{"field":"g","type":"nominal","scale":{"domain":["GA","GG"],"range":["#A21E26","#3F5A9B"]},
   "legend":{"orient":"none","legendX":34.4,"legendY":392.5,"direction":"horizontal","title":"rs117132860 genotype","titleOrient":"left","titleFontSize":11.5,"titleFontWeight":"normal","titleColor":"black","titlePadding":12,"labelFontSize":11.5,"labelFontWeight":"bold","labelColor":"black","symbolType":"square","symbolSize":170,"symbolStrokeColor":"black","symbolStrokeWidth":1,"symbolOpacity":1,"columnPadding":6,"labelOffset":5}}}},
{"data":{"name":"boxC"},
 "mark":{"type":"rule","color":"black","strokeWidth":0.8},
 "encoding":{"x":{"field":"c","type":"quantitative","scale":{"domain":[0.4,2.6],"nice":false,"zero":false,"padding":0}},
  "y":{"field":"lo","type":"quantitative","scale":{"domain":[-3.7,3.7],"nice":false,"zero":false}},"y2":{"field":"hi"}}},
{"data":{"name":"boxC"},
 "mark":{"type":"bar","width":24,"fill":"white","stroke":"black","strokeWidth":0.8},
 "encoding":{"x":{"field":"c","type":"quantitative","scale":{"domain":[0.4,2.6],"nice":false,"zero":false,"padding":0}},
  "y":{"field":"q1","type":"quantitative","scale":{"domain":[-3.7,3.7],"nice":false,"zero":false}},"y2":{"field":"q3"}}},
{"data":{"name":"boxC"},
 "mark":{"type":"bar","width":23,"fill":"black","stroke":"black","strokeWidth":1.3},
 "encoding":{"x":{"field":"c","type":"quantitative","scale":{"domain":[0.4,2.6],"nice":false,"zero":false,"padding":0}},
  "y":{"field":"med","type":"quantitative","scale":{"domain":[-3.7,3.7],"nice":false,"zero":false}},"y2":{"field":"med"}}},
{"data":{"name":"ptsC"},
 "mark":{"type":"circle","size":15,"fill":"#D9782D","stroke":"#3B2411","strokeWidth":0.6,"opacity":1},
 "encoding":{"x":{"field":"x","type":"quantitative","scale":{"domain":[0.4,2.6],"nice":false,"zero":false,"padding":0}},
  "y":{"field":"v","type":"quantitative","scale":{"domain":[-3.7,3.7],"nice":false,"zero":false}}}},
{"data":{"name":"ref"},
 "mark":{"type":"text","text":"= 0.03","fontSize":19.5,"align":"right","baseline":"middle","dx":115,"dy":-162.5,"color":"black"},
 "encoding":{"y":{"field":"y","type":"quantitative","scale":{"domain":[-3.7,3.7],"nice":false,"zero":false}}}},
{"data":{"name":"ref"},
 "mark":{"type":"text","text":"P","fontSize":19.5,"fontStyle":"italic","align":"right","baseline":"middle","dx":54.8,"dy":-162.5,"color":"black"},
 "encoding":{"y":{"field":"y","type":"quantitative","scale":{"domain":[-3.7,3.7],"nice":false,"zero":false}}}},
{"data":{"name":"ref"},
 "mark":{"type":"text","text":"G","fontSize":11,"fontWeight":"bold","align":"left","baseline":"top","dx":37.7,"dy":186.5,"color":"#222222"},
 "encoding":{"y":{"field":"y","type":"quantitative","scale":{"domain":[-3.7,3.7],"nice":false,"zero":false}}}},
{"data":{"name":"ref"},
 "mark":{"type":"text","text":"A","fontSize":11,"fontWeight":"bold","align":"left","baseline":"top","dx":46.4,"dy":186.5,"color":"#D42A2A"},
 "encoding":{"y":{"field":"y","type":"quantitative","scale":{"domain":[-3.7,3.7],"nice":false,"zero":false}}}},
{"data":{"name":"ref"},
 "mark":{"type":"text","text":"(N=6)","fontSize":11,"fontWeight":"bold","align":"left","baseline":"top","dx":57.4,"dy":186.5,"color":"#222222"},
 "encoding":{"y":{"field":"y","type":"quantitative","scale":{"domain":[-3.7,3.7],"nice":false,"zero":false}}}},
{"data":{"name":"ref"},
 "mark":{"type":"text","text":"C","fontSize":15,"fontWeight":"bold","align":"center","baseline":"middle","dx":-213,"dy":-200.5,"color":"black"},
 "encoding":{"y":{"field":"y","type":"quantitative","scale":{"domain":[-3.7,3.7],"nice":false,"zero":false}}}}
]
},
{
"width":270,"height":365,
"layer":[
{"data":{"name":"vioD"},
 "mark":{"type":"area","orient":"horizontal","interpolate":"monotone","stroke":"black","strokeWidth":0.9,"opacity":1},
 "encoding":{
  "y":{"field":"v","type":"quantitative","scale":{"domain":[-3.7,3.7],"nice":false,"zero":false},"title":"BZW2 rank normalized gene expression",
   "axis":{"values":[-3,-2,-1,0,1,2,3],"labelExpr":"datum.value == 2 ? '2' : datum.value == 0 ? '0' : datum.value == -2 ? '-2' : ''","labelFontSize":9.5,"labelFontWeight":"bold","labelColor":"#222222","labelOverlap":false,"ticks":false,"tickSize":0,"labelPadding":4,"domainColor":"#A6A6A6","domainWidth":1.2,"grid":true,"gridColor":"#E8E8E8","gridWidth":1,"titleFontSize":16.5,"titleFontWeight":"normal","titleColor":"black","titlePadding":14}},
  "x":{"field":"lo","type":"quantitative","scale":{"domain":[0.4,2.6],"nice":false,"zero":false,"padding":0},"title":null,
   "axis":{"values":[1,2],"labelExpr":"datum.value == 1 ? 'GG (N=100)' : ''","labelFontSize":11,"labelFontWeight":"bold","labelColor":"#222222","labelOverlap":false,"labelFlush":false,"ticks":false,"tickSize":0,"labelPadding":4,"domainColor":"#A6A6A6","domainWidth":1.2,"grid":true,"gridColor":"#E8E8E8","gridWidth":1}},
  "x2":{"field":"hi"},
  "fill":{"field":"g","type":"nominal","scale":{"domain":["GA","GG"],"range":["#A21E26","#3F5A9B"]},
   "legend":{"orient":"none","legendX":34.4,"legendY":392.5,"direction":"horizontal","title":"rs117132860 genotype","titleOrient":"left","titleFontSize":11.5,"titleFontWeight":"normal","titleColor":"black","titlePadding":12,"labelFontSize":11.5,"labelFontWeight":"bold","labelColor":"black","symbolType":"square","symbolSize":170,"symbolStrokeColor":"black","symbolStrokeWidth":1,"symbolOpacity":1,"columnPadding":6,"labelOffset":5}}}},
{"data":{"name":"boxD"},
 "mark":{"type":"rule","color":"black","strokeWidth":0.8},
 "encoding":{"x":{"field":"c","type":"quantitative","scale":{"domain":[0.4,2.6],"nice":false,"zero":false,"padding":0}},
  "y":{"field":"lo","type":"quantitative","scale":{"domain":[-3.7,3.7],"nice":false,"zero":false}},"y2":{"field":"hi"}}},
{"data":{"name":"boxD"},
 "mark":{"type":"bar","width":24,"fill":"white","stroke":"black","strokeWidth":0.8},
 "encoding":{"x":{"field":"c","type":"quantitative","scale":{"domain":[0.4,2.6],"nice":false,"zero":false,"padding":0}},
  "y":{"field":"q1","type":"quantitative","scale":{"domain":[-3.7,3.7],"nice":false,"zero":false}},"y2":{"field":"q3"}}},
{"data":{"name":"boxD"},
 "mark":{"type":"bar","width":23,"fill":"black","stroke":"black","strokeWidth":1.3},
 "encoding":{"x":{"field":"c","type":"quantitative","scale":{"domain":[0.4,2.6],"nice":false,"zero":false,"padding":0}},
  "y":{"field":"med","type":"quantitative","scale":{"domain":[-3.7,3.7],"nice":false,"zero":false}},"y2":{"field":"med"}}},
{"data":{"name":"ptsD"},
 "mark":{"type":"circle","size":15,"fill":"#D9782D","stroke":"#3B2411","strokeWidth":0.6,"opacity":1},
 "encoding":{"x":{"field":"x","type":"quantitative","scale":{"domain":[0.4,2.6],"nice":false,"zero":false,"padding":0}},
  "y":{"field":"v","type":"quantitative","scale":{"domain":[-3.7,3.7],"nice":false,"zero":false}}}},
{"data":{"name":"ref"},
 "mark":{"type":"text","text":"= 0.10","fontSize":19.5,"align":"right","baseline":"middle","dx":131,"dy":-163.5,"color":"black"},
 "encoding":{"y":{"field":"y","type":"quantitative","scale":{"domain":[-3.7,3.7],"nice":false,"zero":false}}}},
{"data":{"name":"ref"},
 "mark":{"type":"text","text":"P","fontSize":19.5,"fontStyle":"italic","align":"right","baseline":"middle","dx":70.8,"dy":-163.5,"color":"black"},
 "encoding":{"y":{"field":"y","type":"quantitative","scale":{"domain":[-3.7,3.7],"nice":false,"zero":false}}}},
{"data":{"name":"ref"},
 "mark":{"type":"text","text":"G","fontSize":11,"fontWeight":"bold","align":"left","baseline":"top","dx":37.7,"dy":186.5,"color":"#222222"},
 "encoding":{"y":{"field":"y","type":"quantitative","scale":{"domain":[-3.7,3.7],"nice":false,"zero":false}}}},
{"data":{"name":"ref"},
 "mark":{"type":"text","text":"A","fontSize":11,"fontWeight":"bold","align":"left","baseline":"top","dx":46.4,"dy":186.5,"color":"#D42A2A"},
 "encoding":{"y":{"field":"y","type":"quantitative","scale":{"domain":[-3.7,3.7],"nice":false,"zero":false}}}},
{"data":{"name":"ref"},
 "mark":{"type":"text","text":"(N=6)","fontSize":11,"fontWeight":"bold","align":"left","baseline":"top","dx":57.4,"dy":186.5,"color":"#222222"},
 "encoding":{"y":{"field":"y","type":"quantitative","scale":{"domain":[-3.7,3.7],"nice":false,"zero":false}}}},
{"data":{"name":"ref"},
 "mark":{"type":"text","text":"D","fontSize":15,"fontWeight":"bold","align":"center","baseline":"middle","dx":-201,"dy":-200.5,"color":"black"},
 "encoding":{"y":{"field":"y","type":"quantitative","scale":{"domain":[-3.7,3.7],"nice":false,"zero":false}}}}
]
}
]
}
]
}
